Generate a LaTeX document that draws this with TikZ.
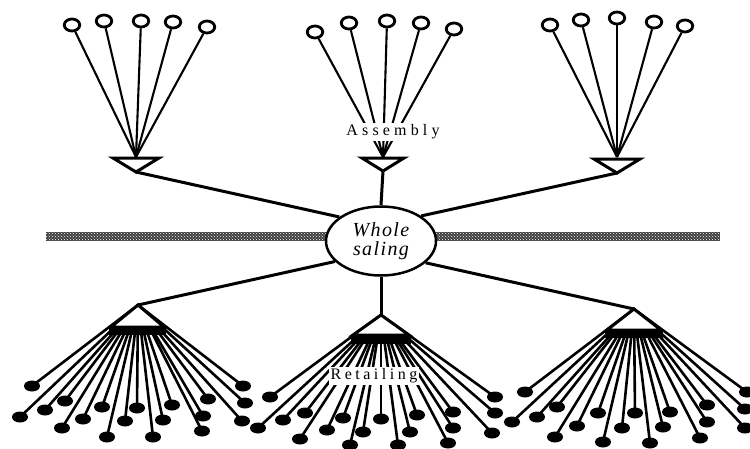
\documentclass[tikz,border=0pt]{standalone}
\usepackage{fontspec}
\setmainfont{Liberation Serif}
\usetikzlibrary{patterns,shapes.geometric,calc}
\pgfdeclarelayer{bg}
\pgfsetlayers{bg,main}
\begin{document}
\begin{tikzpicture}[x=1pt,y=-1pt,
  opendot/.style={draw,fill=white,ellipse,line width=2.8pt,minimum width=15.5pt,minimum height=12pt,inner sep=0pt},
  soliddot/.style={fill=black,ellipse,minimum width=16pt,minimum height=11pt,inner sep=0pt},
  spoke/.style={line width=2.1pt},
  fanline/.style={line width=2.6pt},
  link/.style={line width=3pt},
  tri/.style={draw,fill=white,line width=3pt,line join=miter},
  label/.style={fill=white,inner sep=1.5pt},
]
\useasboundingbox (0,0) rectangle (750,448);

% ---------- central circle ----------
\node[draw,ellipse,line width=2.5pt,fill=white,minimum width=110pt,minimum height=69pt,
      inner sep=0pt,align=center,
      font={\fontsize{20}{19}\selectfont\itshape\addfontfeatures{LetterSpace=7}}]
      (ws) at (381,241) {Whole\\saling};

% ---------- hatched band ----------
\begin{pgfonlayer}{bg}
  \fill[black!75] (46,232) rectangle (720,241);
  \fill[pattern=crosshatch dots,pattern color=white] (46,232) rectangle (720,241);
\end{pgfonlayer}

% ---------- top groups ----------
\coordinate (ca) at (136,157);
\coordinate (cb) at (383,157);
\coordinate (cc) at (617,157);
\foreach \x/\y [count=\i] in {72/25,104/21,141/21,173/22,207/27}{
  \node[opendot] (ta\i) at (\x,\y) {};
  \begin{pgfonlayer}{bg}\draw[spoke] (ta\i) -- (ca);\end{pgfonlayer}
}
\foreach \x/\y [count=\i] in {315/32,349/23,387/21,421/23,454/29}{
  \node[opendot] (tb\i) at (\x,\y) {};
  \begin{pgfonlayer}{bg}\draw[spoke] (tb\i) -- (cb);\end{pgfonlayer}
}
\foreach \x/\y [count=\i] in {550/25,581/20,617/18,654/22,685/26}{
  \node[opendot] (tc\i) at (\x,\y) {};
  \begin{pgfonlayer}{bg}\draw[spoke] (tc\i) -- (cc);\end{pgfonlayer}
}

\node[label,font={\fontsize{16}{16}\selectfont\addfontfeatures{LetterSpace=26}}]
  (asm) at (393,132) {Assembly};

% top triangles
\coordinate (taL) at (113,158); \coordinate (taR) at (159,158); \coordinate (taA) at (136,172);
\coordinate (tbL) at (362,158); \coordinate (tbR) at (404,158); \coordinate (tbA) at (383,171);
\coordinate (tcL) at (594,159); \coordinate (tcR) at (640,159); \coordinate (tcA) at (617,173);
\draw[tri] (taL) -- (taR) -- (taA) -- cycle;
\draw[tri] (tbL) -- (tbR) -- (tbA) -- cycle;
\draw[tri] (tcL) -- (tcR) -- (tcA) -- cycle;

% ---------- bottom groups ----------
\coordinate (ba) at (138,305);
\coordinate (bb) at (381,315);
\coordinate (bc) at (634,309);
\foreach \x/\y [count=\i] in {32/386,20/417,45/410,65/401,62/428,83/419,102/407,107/437,125/421,137/408,153/437,163/420,172/405,202/431,203/416,208/399,243/386,245/403,242/421}{
  \node[soliddot] (da\i) at (\x,\y) {};
  \begin{pgfonlayer}{bg}\draw[fanline] (da\i.center) -- (ba);\end{pgfonlayer}
}
\foreach \x/\y [count=\i] in {270/397,258/428,283/420,305/413,300/439,327/430,343/418,350/445,363/432,381/419,398/445,410/432,417/415,453/412,453/428,448/443,495/397,495/413,492/433}{
  \node[soliddot] (db\i) at (\x,\y) {};
  \begin{pgfonlayer}{bg}\draw[fanline] (db\i.center) -- (bb);\end{pgfonlayer}
}
\foreach \x/\y [count=\i] in {525/392,512/422,537/417,557/407,577/426,555/437,598/413,603/442,622/428,635/413,650/443,663/427,670/412,700/438,707/422,707/405,747/392,745/409,745/428}{
  \node[soliddot] (dc\i) at (\x,\y) {};
  \begin{pgfonlayer}{bg}\draw[fanline] (dc\i.center) -- (bc);\end{pgfonlayer}
}

% bottom triangles with bars
\coordinate (baL) at (111,327); \coordinate (baR) at (164,327);
\coordinate (bbL) at (353,335); \coordinate (bbR) at (409,335);
\coordinate (bcL) at (607,330); \coordinate (bcR) at (661,330);
\draw[tri] (ba) -- (baR) -- (baL) -- cycle;
\draw[tri] (bb) -- (bbR) -- (bbL) -- cycle;
\draw[tri] (bc) -- (bcR) -- (bcL) -- cycle;
\fill ($(baL)+(-2,0)$) rectangle ($(baR)+(2,8)$);
\fill ($(bbL)+(-2,0)$) rectangle ($(bbR)+(2,9)$);
\fill ($(bcL)+(-2,0)$) rectangle ($(bcR)+(2,8)$);

\node[label,font={\fontsize{16}{16}\selectfont\addfontfeatures{LetterSpace=22}}]
  (ret) at (374,376) {Retailing};

% ---------- links to the wholesaler ----------
\draw[link] (taA) -- (ws.150);
\draw[link] (tbA) -- (ws.north);
\draw[link] (tcA) -- (ws.32);
\draw[link] (ws.204) -- (ba);
\draw[link] (ws.south) -- (bb);
\draw[link] (ws.334) -- (bc);
\end{tikzpicture}
\end{document}
